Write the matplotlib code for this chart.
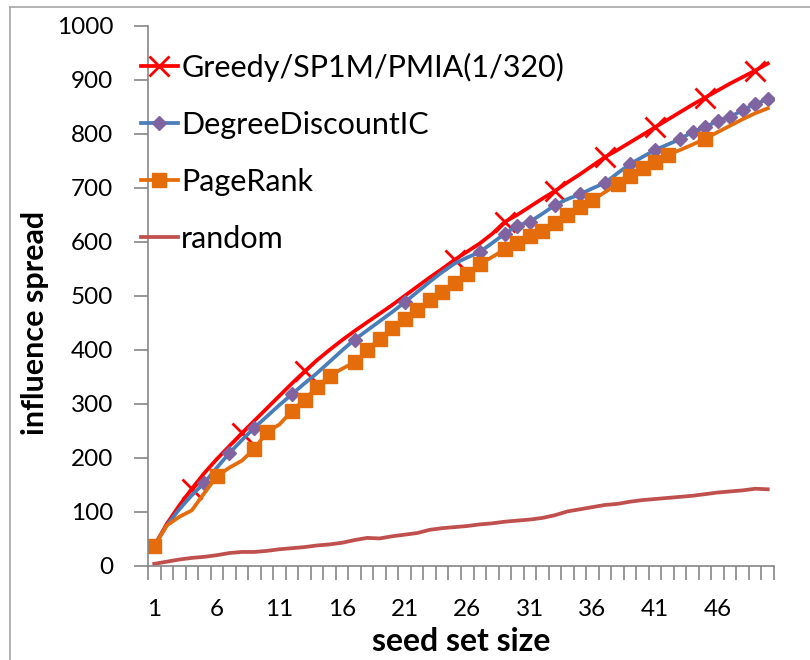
import numpy as np
import matplotlib
matplotlib.use("Agg")
import matplotlib.pyplot as plt
from matplotlib.lines import Line2D

plt.rcParams['font.family'] = ['Lato', 'DejaVu Sans']

# values (seed set size 1..50)
seed_size = np.arange(1, 51)

greedy = [37, 78, 112, 143, 172, 198, 222, 246, 269, 292,
          315, 338, 360, 381, 400, 418, 435, 451, 467, 483,
          500, 517, 534, 550, 567, 582, 597, 615, 637, 650,
          665, 680, 694, 710, 725, 741, 757, 770, 784, 798,
          812, 826, 840, 854, 867, 880, 893, 905, 917, 930]

ddic = [37, 75, 105, 131, 154, 182, 209, 233, 256, 277,
        298, 318, 338, 357, 378, 399, 419, 436, 453, 470,
        488, 507, 526, 544, 560, 571, 581, 598, 615, 630,
        637, 652, 668, 679, 688, 699, 709, 727, 744, 757,
        770, 780, 790, 804, 812, 824, 831, 844, 855, 864]

pagerank = [37, 75, 91, 103, 135, 166, 182, 195, 217, 248,
            262, 287, 308, 331, 352, 365, 377, 399, 421, 440,
            458, 473, 492, 507, 523, 540, 559, 572, 586, 597,
            611, 620, 634, 649, 665, 677, 692, 707, 722, 736,
            748, 761, 770, 780, 791, 803, 815, 827, 838, 847]

random_sel = [4, 8, 12, 15, 17, 20, 24, 26, 26, 28,
              31, 33, 35, 38, 40, 43, 48, 52, 51, 55,
              58, 61, 67, 70, 72, 74, 77, 79, 82, 84,
              86, 89, 94, 101, 105, 109, 113, 115, 119, 122,
              124, 126, 128, 130, 133, 136, 138, 140, 143, 142]

# seed sizes where the original chart shows a marker
greedy_marks = [4, 8, 13, 25, 29, 33, 37, 41, 45, 49]
ddic_marks = [5, 7, 9, 12, 17, 21, 27, 29, 30, 31, 33, 35, 37, 39,
              41, 43, 44, 45, 46, 47, 48, 49, 50]
pagerank_marks = [1, 6, 9, 10, 12, 13, 14, 15, 17, 18, 19, 20, 21, 22,
                  23, 24, 25, 26, 27, 29, 30, 31, 32, 33, 34, 35, 36,
                  38, 39, 40, 41, 42, 45]

xticks = [1, 6, 11, 16, 21, 26, 31, 36, 41, 46]
yticks = list(range(0, 1001, 100))

c_red = '#FF0000'
c_blue = '#4A7EBB'
c_purple = '#8064A2'
c_orange = '#E46C0A'
c_random = '#C0504D'
c_axis = '#868686'

fig = plt.figure(figsize=(8.1, 6.6), dpi=100)
ax = fig.add_axes([148 / 810, 1 - 566 / 660, (774 - 148) / 810, (566 - 25.7) / 660])

def idx(marks):
    return [m - 1 for m in marks]

ax.plot(seed_size, greedy, color=c_red, lw=2.7, marker='x', ms=14, mew=2,
        markevery=idx(greedy_marks), label='Greedy/SP1M/PMIA(1/320)')
ax.plot(seed_size, ddic, color=c_blue, lw=2.7, marker='D', ms=7,
        mfc=c_purple, mec=c_purple, markevery=idx(ddic_marks),
        label='DegreeDiscountIC')
ax.plot(seed_size, pagerank, color=c_orange, lw=2.7, marker='s', ms=10,
        markevery=idx(pagerank_marks), label='PageRank')
ax.plot(seed_size, random_sel, color=c_random, lw=2.7, label='random')

ax.set_xlim(0.5, 50.5)
ax.set_ylim(0, 1000)

for s in ['top', 'right']:
    ax.spines[s].set_visible(False)
for s in ['left', 'bottom']:
    ax.spines[s].set_color(c_axis)
    ax.spines[s].set_linewidth(1.2)

ax.set_yticks(yticks)
ax.tick_params(axis='y', direction='out', length=10, width=1.2, color=c_axis,
               pad=15, labelsize=17.5)
ax.set_xticks(xticks)
ax.set_xticks(np.arange(0.5, 51, 1), minor=True)
ax.tick_params(axis='x', which='major', length=0, pad=24, labelsize=17.5)
ax.tick_params(axis='x', which='minor', direction='out', length=10, width=1.2,
               color=c_axis)

ax.set_xlabel('seed set size', fontsize=23, fontweight='bold')
ax.xaxis.set_label_coords(0.5, -0.112)
ax.set_ylabel('influence spread', fontsize=22, fontweight='bold')
ax.yaxis.set_label_coords(-0.158, 0.45)

leg = ax.legend(loc='upper left', frameon=False, fontsize=22,
                handlelength=1.2, handletextpad=0.12, labelspacing=0.95,
                borderpad=0, borderaxespad=0)
leg.set_bbox_to_anchor((141 / 810, 1 - 53 / 660), transform=fig.transFigure)

# outer chart-area frame (only left and top edges visible in the original)
fig.add_artist(Line2D([10 / 810, 10 / 810], [1 - 7 / 660, 0], color='#A6A6A6',
                      lw=1.2, transform=fig.transFigure))
fig.add_artist(Line2D([10 / 810, 1], [1 - 7 / 660, 1 - 7 / 660], color='#A6A6A6',
                      lw=1.2, transform=fig.transFigure))

fig.savefig('out.png', dpi=100)
